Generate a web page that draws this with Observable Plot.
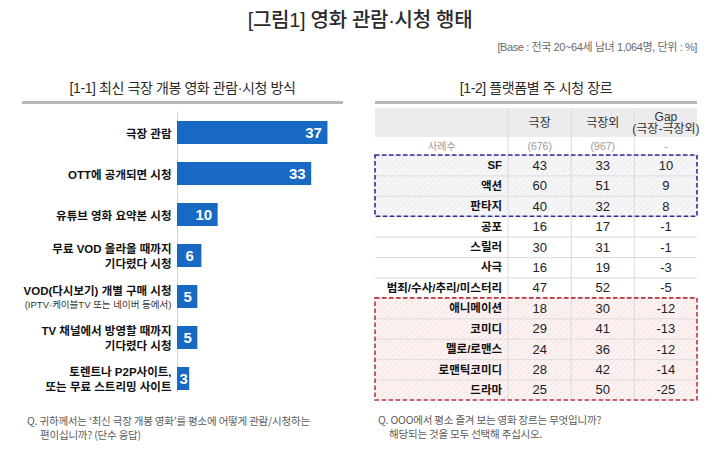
<!DOCTYPE html>
<html><head><meta charset="utf-8">
<script src="https://cdn.jsdelivr.net/npm/d3@7"></script>
<script src="https://cdn.jsdelivr.net/npm/@observablehq/plot@0.6"></script>
<style>
body{margin:0;background:#fff;font-family:"Noto Sans CJK KR","Noto Sans",sans-serif;}
#wrap{position:relative;width:720px;height:456px;overflow:hidden;background:#fff;}
.abs{position:absolute;white-space:nowrap;}
#title{left:0;width:720px;top:6px;text-align:center;font-family:"Liberation Sans","Noto Sans CJK KR",sans-serif;font-size:20px;line-height:28px;color:#2a2a2a;font-weight:500;letter-spacing:-0.3px;}
#base{right:23px;top:40px;font-family:"Liberation Sans","Noto Sans CJK KR",sans-serif;font-size:11px;line-height:14px;color:#6a6a6a;letter-spacing:-0.4px;}
.sub{top:78px;text-align:center;font-family:"Liberation Sans","Noto Sans CJK KR",sans-serif;font-size:14px;line-height:20px;color:#2a2a2a;letter-spacing:-0.4px;}
.rule{top:101px;height:3px;background:#b8b8b8;}
.q{font-size:10.5px;line-height:14px;color:#5a5a5a;letter-spacing:-0.2px;}
#leftChart{left:0;top:110px;}
#rightChart{left:360px;top:100px;}
</style></head>
<body><div id="wrap">
<div id="title" class="abs"></div>
<div id="base" class="abs"></div>
<div id="subL" class="abs sub" style="left:22px;width:321px;"></div>
<div class="abs rule" style="left:22px;width:321px;"></div>
<div id="subR" class="abs sub" style="left:375px;width:322px;"></div>
<div class="abs rule" style="left:375px;width:322px;"></div>
<div id="leftChart" class="abs"></div>
<div id="rightChart" class="abs"></div>
<div id="qL" class="abs q" style="left:27px;top:414px;"></div>
<div id="qR" class="abs q" style="left:378px;top:413px;"></div>
</div>
<script>
// ---------- data ----------
const titleText = "[그림1] 영화 관람·시청 행태";
const baseNote = "[Base : 전국 20~64세 남녀 1,064명, 단위 : %]";
const leftSubtitle = "[1-1] 최신 극장 개봉 영화 관람·시청 방식";
const rightSubtitle = "[1-2] 플랫폼별 주 시청 장르";

const methods = [
  "극장 관람",
  "OTT에 공개되면 시청",
  "유튜브 영화 요약본 시청",
  "무료 VOD 올라올 때까지\n기다렸다 시청",
  "VOD(다시보기) 개별 구매 시청",
  "TV 채널에서 방영할 때까지\n기다렸다 시청",
  "토렌트나 P2P사이트,\n또는 무료 스트리밍 사이트"
];
const methodNotes = ["", "", "", "", "(IPTV·케이블TV 또는 네이버 등에서)", "", ""];
const methodValues = [37, 33, 10, 6, 5, 5, 3];

const genres = ["SF", "액션", "판타지", "공포", "스릴러", "사극", "범죄/수사/추리/미스터리",
  "애니메이션", "코미디", "멜로/로맨스", "로맨틱코미디", "드라마"];
const theaterValues = [43, 60, 40, 16, 30, 16, 47, 18, 29, 24, 28, 25];
const nonTheaterValues = [33, 51, 32, 17, 31, 19, 52, 30, 41, 36, 42, 50];
const gapValues = [10, 9, 8, -1, -1, -3, -5, -12, -13, -12, -14, -25];
const tableColumns = ["극장", "극장외", "Gap\n(극장-극장외)"];
const sampleLabel = "사례수";
const sampleSizes = ["(676)", "(967)", "-"];
const blueGenres = ["SF", "액션", "판타지"];
const redGenres = ["애니메이션", "코미디", "멜로/로맨스", "로맨틱코미디", "드라마"];

const leftQuestion = ["Q. 귀하께서는 ‘최신 극장 개봉 영화’를 평소에 어떻게 관람/시청하는", "편이십니까? (단수 응답)"];
const rightQuestion = ["Q. OOO에서 평소 즐겨 보는 영화 장르는 무엇입니까?", "해당되는 것을 모두 선택해 주십시오."];

// ---------- text ----------
document.getElementById("title").textContent = titleText;
document.getElementById("base").textContent = baseNote;
document.getElementById("subL").textContent = leftSubtitle;
document.getElementById("subR").textContent = rightSubtitle;
document.getElementById("qL").innerHTML = leftQuestion[0] + "<br><span style='padding-left:13px'>" + leftQuestion[1] + "</span>";
document.getElementById("qR").innerHTML = rightQuestion[0] + "<br><span style='padding-left:11px'>" + rightQuestion[1] + "</span>";

const latinKr = "Liberation Sans, Arial, Noto Sans CJK KR, sans-serif";

// ---------- left bar chart ----------
const methodData = methods.map((m, i) => ({method: m, note: methodNotes[i], value: methodValues[i]}));
const left = Plot.plot({
  width: 360, height: 290,
  marginLeft: 177, marginRight: 0, marginTop: 0, marginBottom: 0,
  x: {domain: [0, 45], axis: null},
  y: {domain: methods, axis: null, paddingInner: 0.45, paddingOuter: 0.22},
  style: {background: "transparent", overflow: "visible", fontFamily: latinKr},
  marks: [
    Plot.ruleX([0], {stroke: "#d6d6d6", strokeWidth: 1, insetTop: 1, insetBottom: 8}),
    Plot.barX(methodData, {x: "value", y: "method", fill: "#1769c3"}),
    Plot.text(methodData.filter(d => d.value >= 8), {x: "value", y: "method", text: d => String(d.value),
      textAnchor: "end", dx: -6, fill: "white", fontWeight: "bold", fontSize: 15}),
    Plot.text(methodData.filter(d => d.value < 8), {x: d => d.value / 2, y: "method", text: d => String(d.value),
      textAnchor: "middle", fill: "white", fontWeight: "bold", fontSize: 15}),
    Plot.text(methodData.filter(d => !d.note), {y: "method", text: "method", frameAnchor: "left",
      textAnchor: "end", dx: -6, fill: "#111", fontWeight: "bold", fontSize: 11.5, lineHeight: 1.3, letterSpacing: -0.4}),
    Plot.text(methodData.filter(d => d.note), {y: "method", text: "method", frameAnchor: "left",
      textAnchor: "end", dx: -6, dy: -6, fill: "#111", fontWeight: "bold", fontSize: 11.5, letterSpacing: -0.4}),
    Plot.text(methodData.filter(d => d.note), {y: "method", text: "note", frameAnchor: "left",
      textAnchor: "end", dx: -6, dy: 8, fill: "#333", fontSize: 9.5, letterSpacing: -0.5})
  ]
});
document.getElementById("leftChart").appendChild(left);

// ---------- right table ----------
// table geometry in scale units: columns [0,2] label, [2,3],[3,4],[4,5]; rows i -> [i, i+1]
const tableLeft = -0.1, tableRight = 5;
const headerBand = {y1: -2.3, y2: -0.88};
const sampleBand = {y1: -0.88, y2: 0};
const rows = genres.map((g, i) => ({genre: g, row: i}));
const cells = genres.flatMap((g, i) => [theaterValues[i], nonTheaterValues[i], gapValues[i]]
  .map((v, j) => ({row: i, col: j, value: v})));
const headers = tableColumns.map((c, j) => ({col: j, label: c}));
const samples = sampleSizes.map((s, j) => ({col: j, label: s}));
const blueIdx = blueGenres.map(g => genres.indexOf(g));
const redIdx = redGenres.map(g => genres.indexOf(g));
const boxes = [
  {y1: d3.min(blueIdx), y2: d3.max(blueIdx) + 1, fill: "url(#hatchBlue)", stroke: "#2e2e93"},
  {y1: d3.min(redIdx), y2: d3.max(redIdx) + 1, fill: "url(#hatchRed)", stroke: "#b83540"}
];

const right = Plot.plot({
  width: 360, height: 310,
  marginLeft: 15, marginRight: 23, marginTop: 8, marginBottom: 10,
  x: {domain: [tableLeft, tableRight], axis: null},
  y: {domain: [headerBand.y1, genres.length], reverse: true, axis: null},
  style: {background: "transparent", overflow: "visible", fontFamily: latinKr},
  marks: [
    Plot.rect([headerBand], {x1: tableLeft, x2: tableRight, y1: "y1", y2: "y2", fill: "#ececec"}),
    Plot.rect(boxes, {x1: tableLeft, x2: tableRight, y1: "y1", y2: "y2", fill: d => d.fill}),
    Plot.ruleY(d3.range(0, genres.length), {stroke: "#dcdcdc", strokeWidth: 1}),
    Plot.ruleX([2, 3, 4], {stroke: "#dcdcdc", strokeWidth: 1}),
    Plot.text(headers, {x: d => d.col + 2.5, y: (headerBand.y1 + headerBand.y2) / 2, text: "label",
      fontSize: 12, fill: "#333", lineHeight: 1.05, letterSpacing: -0.4}),
    Plot.text([sampleLabel], {x: (tableLeft + 2) / 2, y: (sampleBand.y1 + sampleBand.y2) / 2, text: d => d,
      fontSize: 10, fill: "#9a9a9a", letterSpacing: -0.5}),
    Plot.text(samples, {x: d => d.col + 2.5, y: (sampleBand.y1 + sampleBand.y2) / 2, text: "label",
      fontSize: 10.5, fill: "#9a9a9a", letterSpacing: -0.5}),
    Plot.text(rows, {x: 2, y: d => d.row + 0.5, text: "genre", textAnchor: "end", dx: -6,
      fontWeight: "bold", fontSize: 11.5, fill: "#111", letterSpacing: -0.4}),
    Plot.text(cells, {x: d => d.col + 2.5, y: d => d.row + 0.5, text: d => String(d.value),
      fontSize: 13, fill: "#222", letterSpacing: -0.5}),
    Plot.rect(boxes, {x1: tableLeft, x2: tableRight, y1: "y1", y2: "y2", fill: "none",
      stroke: d => d.stroke, strokeWidth: 1.6, strokeDasharray: "4.5,2.5"})
  ]
});
function addPattern(svg, id, bg, line) {
  const ns = "http://www.w3.org/2000/svg";
  const defs = document.createElementNS(ns, "defs");
  defs.innerHTML = `<pattern id="${id}" width="4" height="4" patternUnits="userSpaceOnUse" patternTransform="rotate(45)"><rect width="4" height="4" fill="${bg}"/><line x1="0" y1="0" x2="0" y2="4" stroke="${line}" stroke-width="1.3"/></pattern>`;
  svg.insertBefore(defs, svg.firstChild);
}
addPattern(right, "hatchBlue", "#f6f6f9", "#e7e7ee");
addPattern(right, "hatchRed", "#fcf2f2", "#f2e0e0");
document.getElementById("rightChart").appendChild(right);
</script>
</body></html>
